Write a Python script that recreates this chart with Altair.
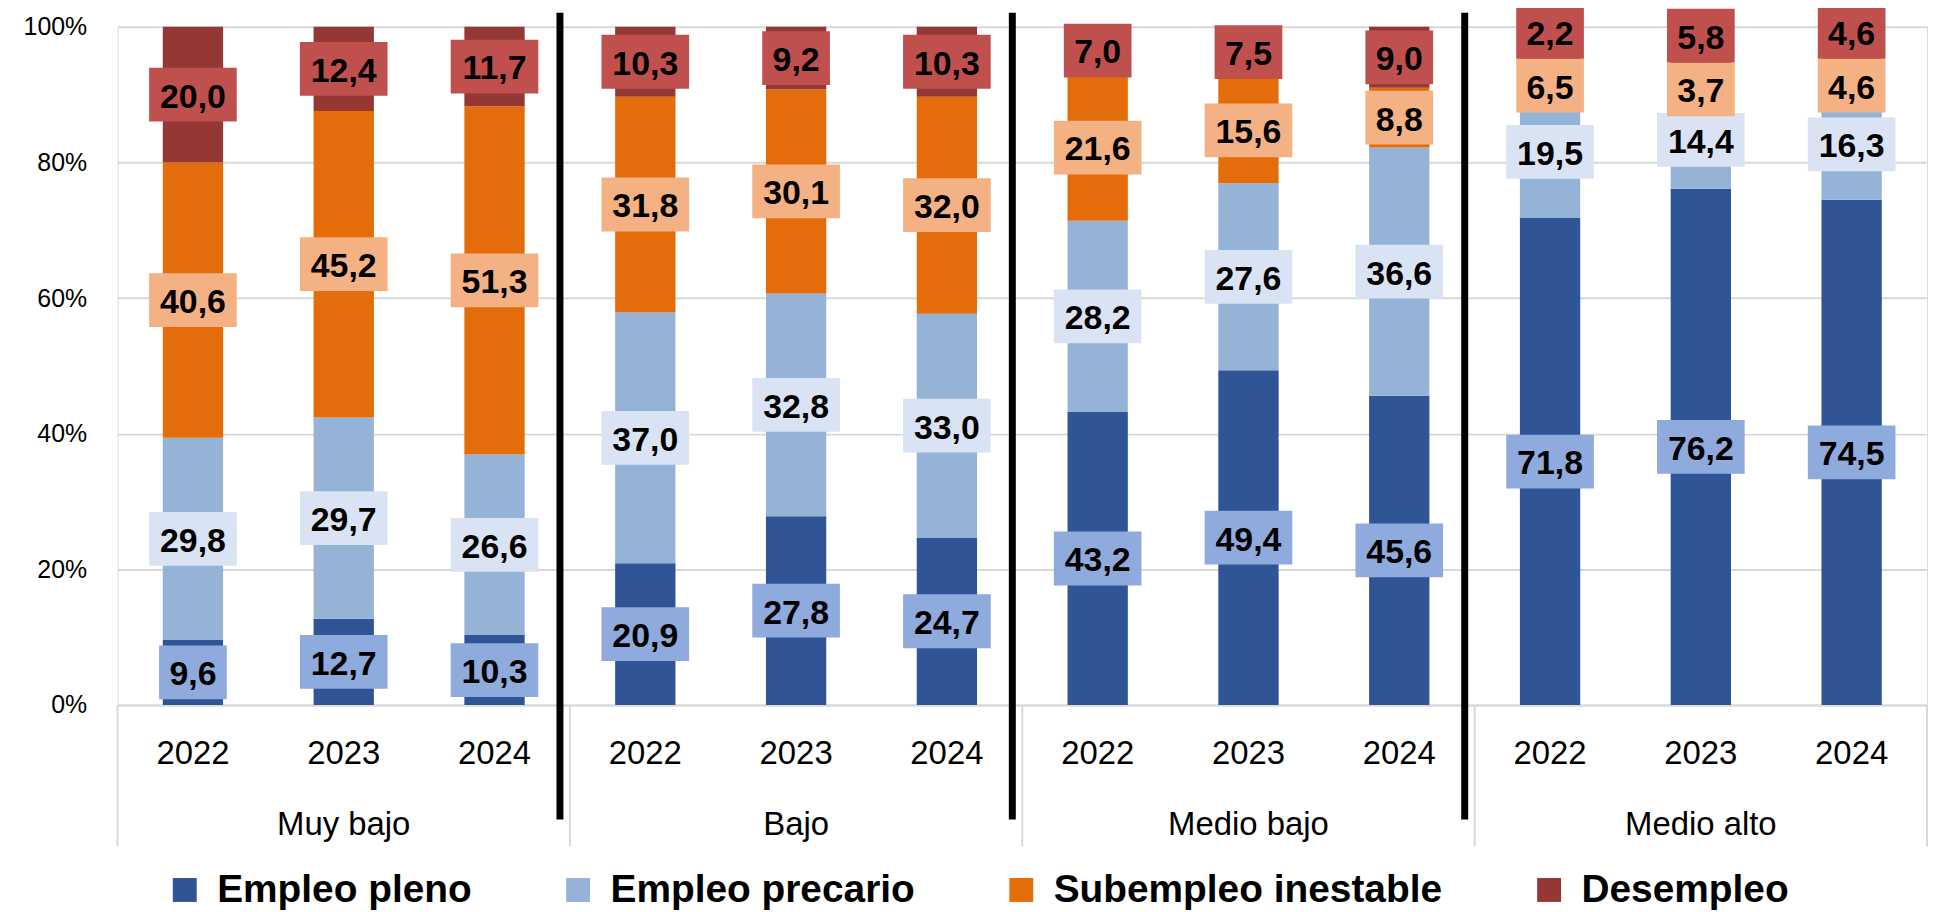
import altair as alt
import pandas as pd

grupos = ["Muy bajo", "Bajo", "Medio bajo", "Medio alto"]
anios = ["2022", "2023", "2024"]
series = ["Empleo pleno", "Empleo precario", "Subempleo inestable", "Desempleo"]

# values per bar, in order: Muy bajo 2022..2024, Bajo ..., Medio bajo ..., Medio alto ...
empleo_pleno = [9.6, 12.7, 10.3, 20.9, 27.8, 24.7, 43.2, 49.4, 45.6, 71.8, 76.2, 74.5]
empleo_precario = [29.8, 29.7, 26.6, 37.0, 32.8, 33.0, 28.2, 27.6, 36.6, 19.5, 14.4, 16.3]
subempleo_inestable = [40.6, 45.2, 51.3, 31.8, 30.1, 32.0, 21.6, 15.6, 8.8, 6.5, 3.7, 4.6]
desempleo = [20.0, 12.4, 11.7, 10.3, 9.2, 10.3, 7.0, 7.5, 9.0, 2.2, 5.8, 4.6]

colores_barra = ["#2F5597", "#95B3D7", "#E46C0A", "#953735"]
colores_etiqueta = ["#8FAADC", "#DAE3F3", "#F4B183", "#C0504D"]

FONT = "Liberation Sans"
PLOT_H = 681
BOX_H = 54

claves = [f"{g}|{a}" for g in grupos for a in anios]
valores = [empleo_pleno, empleo_precario, subempleo_inestable, desempleo]
filas = []
for si, s in enumerate(series):
    for i, c in enumerate(claves):
        filas.append({"clave": c, "serie": s, "orden": si, "valor": valores[si][i]})
df = pd.DataFrame(filas)

inicio_grupo = pd.DataFrame({"clave": [f"{g}|{anios[0]}" for g in grupos]})
fin_ultimo = pd.DataFrame({"clave": [claves[-1]]})
lineas_negras = pd.DataFrame({"clave": [f"{g}|{anios[0]}" for g in grupos[1:]]})

label_expr = (
    "split(datum.value, '|')[1] == '2023' ? "
    "[split(datum.value, '|')[1], split(datum.value, '|')[0]] : split(datum.value, '|')[1]"
)

x_scale = alt.Scale(domain=claves, paddingInner=0, paddingOuter=0)
x_axis = alt.Axis(
    labelExpr=label_expr, labelAngle=0, labelFont=FONT, labelFontSize=33,
    labelColor="black", labelPadding=33, ticks=False, tickSize=0,
    domainColor="#D9D9D9", domainWidth=2, labelLineHeight=71,
    labelOverlap=False, labelLimit=400, title=None, grid=False,
)
y_scale = alt.Scale(domain=[0, 1], nice=False)
y_axis = alt.Axis(
    format=".0%", values=[0, 0.2, 0.4, 0.6, 0.8, 1.0], labelFont=FONT,
    labelFontSize=25, labelColor="black", labelPadding=31, ticks=False,
    tickSize=0, domain=False, grid=True, gridColor="#D9D9D9", gridWidth=2,
    labelFlush=False, title=None,
)

sep = BOX_H / PLOT_H  # minimum distance between two label centres (one box height)
tope = 1 - 5 / PLOT_H  # highest centre for a label box near the top edge

base = alt.Chart(df).transform_stack(
    stack="valor", groupby=["clave"], sort=[alt.SortField("orden", "ascending")],
    as_=["v0", "v1"], offset="normalize",
).transform_calculate(
    mid="(datum.v0 + datum.v1) / 2",
    etiqueta="replace(format(datum.valor, '.1f'), '.', ',')",
).transform_calculate(
    nchar="length(datum.etiqueta)",
    m_des="datum.serie == 'Desempleo' ? datum.mid : null",
    m_sub="datum.serie == 'Subempleo inestable' ? datum.mid : null",
).transform_joinaggregate(
    mdes="max(m_des)", msub="max(m_sub)", groupby=["clave"]
).transform_calculate(
    solape=f"max(0, {sep} - (datum.mdes - datum.msub))"
).transform_calculate(
    ydes=f"min(datum.mdes + datum.solape / 2, {tope})"
).transform_calculate(
    ly="datum.serie == 'Desempleo' ? datum.ydes : "
       f"(datum.serie == 'Subempleo inestable' ? min(datum.mid - datum.solape / 2, datum.ydes - {sep}) : datum.mid)"
)

barras = base.mark_bar(width=alt.RelativeBandSize(0.4)).encode(
    x=alt.X("clave:N", scale=x_scale, axis=x_axis, sort=claves),
    y=alt.Y("v0:Q", scale=y_scale, axis=y_axis),
    y2="v1:Q",
    color=alt.Color(
        "serie:N",
        scale=alt.Scale(domain=series, range=colores_barra),
        legend=alt.Legend(
            orient="none", legendX=48, legendY=847, direction="horizontal",
            columns=4, title=None, symbolType="square", symbolSize=576,
            symbolStrokeWidth=0, labelFont=FONT, labelFontWeight="bold",
            labelFontSize=39, labelColor="black", labelOffset=13,
            columnPadding=87, padding=0, labelLimit=1000,
        ),
    ),
)

path4 = "M-1,-0.6136L1,-0.6136L1,0.6136L-1,0.6136Z"
path3 = "M-0.7727,-0.6136L0.7727,-0.6136L0.7727,0.6136L-0.7727,0.6136Z"

fill_enc = alt.Fill("serie:N", scale=alt.Scale(domain=series, range=colores_etiqueta), legend=None)

cajas4 = base.transform_filter("datum.nchar == 4").mark_point(
    shape=path4, size=7744, filled=True, opacity=1, fillOpacity=1, strokeWidth=0
).encode(x=alt.X("clave:N"), y=alt.Y("ly:Q"), fill=fill_enc)

cajas3 = base.transform_filter("datum.nchar == 3").mark_point(
    shape=path3, size=7744, filled=True, opacity=1, fillOpacity=1, strokeWidth=0
).encode(x=alt.X("clave:N"), y=alt.Y("ly:Q"), fill=fill_enc)

textos = base.mark_text(
    font=FONT, fontWeight="bold", fontSize=34, color="black", dy=3,
    align="center", baseline="middle",
).encode(x=alt.X("clave:N"), y=alt.Y("ly:Q"), text="etiqueta:N")

separadores = alt.Chart(inicio_grupo).mark_rule(color="#D9D9D9", strokeWidth=2).encode(
    x=alt.X("clave:N", bandPosition=0), y=alt.value(681), y2=alt.value(823)
)
separador_fin = alt.Chart(fin_ultimo).mark_rule(color="#D9D9D9", strokeWidth=2).encode(
    x=alt.X("clave:N", bandPosition=1), y=alt.value(681), y2=alt.value(823)
)
negras = alt.Chart(lineas_negras).mark_rule(color="black", strokeWidth=7, xOffset=-10).encode(
    x=alt.X("clave:N", bandPosition=0), y=alt.value(-14), y2=alt.value(796)
)

chart = alt.layer(
    barras, cajas4, cajas3, textos, separadores, separador_fin, negras
).properties(
    width=1817, height=PLOT_H,
    autosize=alt.AutoSizeParams(type="none"),
    padding={"left": 110, "top": 17, "right": 6, "bottom": 214},
).configure_view(stroke=None).configure(background="white")

chart.save("out.html", embed_options={"renderer": "svg", "actions": False})
